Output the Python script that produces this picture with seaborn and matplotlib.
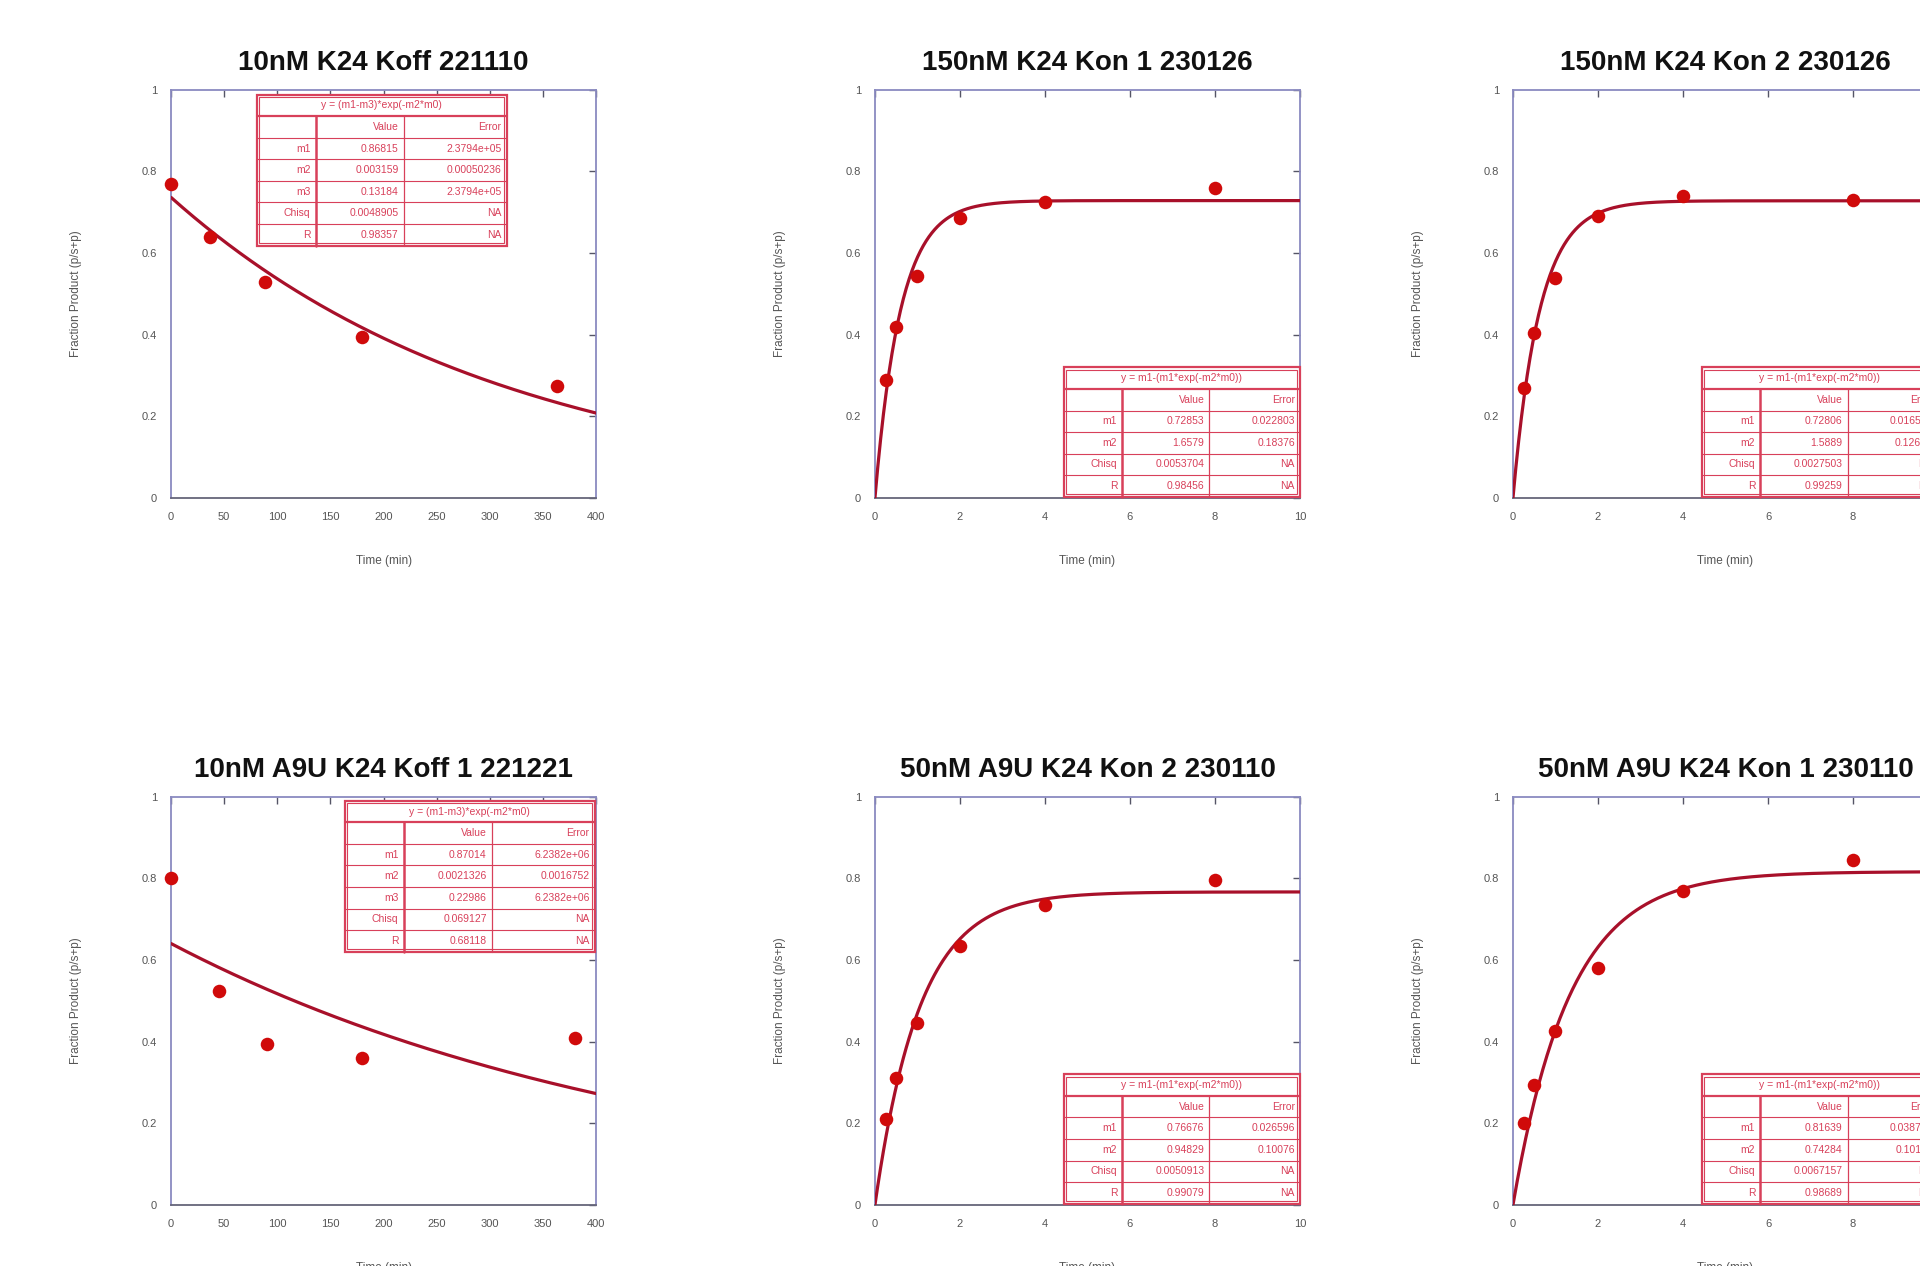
import numpy as np
import pandas as pd
import matplotlib
matplotlib.use("Agg")
import matplotlib.pyplot as plt
import seaborn as sns
from matplotlib.patches import Rectangle

sns.set_theme(style="white")
plt.rcParams['font.family'] = ['Liberation Sans', 'DejaVu Sans']

# ---- data ----
titles = ["10nM K24 Koff 221110", "150nM K24 Kon 1 230126", "150nM K24 Kon 2 230126",
          "10nM A9U K24 Koff 1 221221", "50nM A9U K24 Kon 2 230110", "50nM A9U K24 Kon 1 230110"]

t_k24_koff = [0, 37, 88, 180, 363]
f_k24_koff = [0.77, 0.64, 0.53, 0.395, 0.275]
t_k24_kon1 = [0.25, 0.5, 1, 2, 4, 8]
f_k24_kon1 = [0.29, 0.42, 0.545, 0.685, 0.725, 0.76]
t_k24_kon2 = [0.25, 0.5, 1, 2, 4, 8]
f_k24_kon2 = [0.27, 0.405, 0.54, 0.69, 0.74, 0.73]
t_a9u_koff = [0, 45, 90, 180, 380]
f_a9u_koff = [0.80, 0.525, 0.395, 0.36, 0.41]
t_a9u_kon2 = [0.25, 0.5, 1, 2, 4, 8]
f_a9u_kon2 = [0.21, 0.31, 0.445, 0.635, 0.735, 0.795]
t_a9u_kon1 = [0.25, 0.5, 1, 2, 4, 8]
f_a9u_kon1 = [0.20, 0.295, 0.425, 0.58, 0.77, 0.845]

# fit parameters as printed in each box (m1, m2, m3)
fit_m1 = [0.86815, 0.72853, 0.72806, 0.87014, 0.76676, 0.81639]
fit_m2 = [0.003159, 1.6579, 1.5889, 0.0021326, 0.94829, 0.74284]
fit_m3 = [0.13184, None, None, 0.22986, None, None]

eq_koff = "y = (m1-m3)*exp(-m2*m0)"
eq_kon = "y = m1-(m1*exp(-m2*m0))"
tables = [
    [["m1", "0.86815", "2.3794e+05"], ["m2", "0.003159", "0.00050236"], ["m3", "0.13184", "2.3794e+05"],
     ["Chisq", "0.0048905", "NA"], ["R", "0.98357", "NA"]],
    [["m1", "0.72853", "0.022803"], ["m2", "1.6579", "0.18376"],
     ["Chisq", "0.0053704", "NA"], ["R", "0.98456", "NA"]],
    [["m1", "0.72806", "0.016502"], ["m2", "1.5889", "0.12618"],
     ["Chisq", "0.0027503", "NA"], ["R", "0.99259", "NA"]],
    [["m1", "0.87014", "6.2382e+06"], ["m2", "0.0021326", "0.0016752"], ["m3", "0.22986", "6.2382e+06"],
     ["Chisq", "0.069127", "NA"], ["R", "0.68118", "NA"]],
    [["m1", "0.76676", "0.026596"], ["m2", "0.94829", "0.10076"],
     ["Chisq", "0.0050913", "NA"], ["R", "0.99079", "NA"]],
    [["m1", "0.81639", "0.038718"], ["m2", "0.74284", "0.10118"],
     ["Chisq", "0.0067157", "NA"], ["R", "0.98689", "NA"]],
]

times = [t_k24_koff, t_k24_kon1, t_k24_kon2, t_a9u_koff, t_a9u_kon2, t_a9u_kon1]
fracs = [f_k24_koff, f_k24_kon1, f_k24_kon2, f_a9u_koff, f_a9u_kon2, f_a9u_kon1]
is_koff = [True, False, False, True, False, False]

DOT = "#d00a0a"
LINE = "#a8102a"
TXT = "#d8405a"
SPINE = "#8a8ac0"
GRAY = "#555555"


def draw_table(ax, x0, y_top, col_w, eq, rows):
    rh = 0.0528
    n = len(rows) + 2
    w = sum(col_w)
    y0 = y_top - n * rh
    kw = dict(transform=ax.transAxes, clip_on=False, zorder=6)
    ax.add_patch(Rectangle((x0, y0), w, n * rh, facecolor="white", edgecolor=TXT, lw=1.6, **kw))
    ax.add_patch(Rectangle((x0 + 0.006, y0 + 0.006), w - 0.012, n * rh - 0.012,
                           facecolor="none", edgecolor=TXT, lw=0.8, **kw))
    for i in range(1, n):
        y = y_top - i * rh
        lw = 1.6 if i == 1 else 0.8
        ax.plot([x0, x0 + w], [y, y], color=TXT, lw=lw, **kw)
    xs = [x0 + col_w[0], x0 + col_w[0] + col_w[1]]
    ax.plot([xs[0], xs[0]], [y0, y_top - rh], color=TXT, lw=1.8, **kw)
    ax.plot([xs[1], xs[1]], [y0, y_top - rh], color=TXT, lw=0.9, **kw)
    tk = dict(transform=ax.transAxes, fontsize=7.5, color=TXT, va="center", zorder=7, clip_on=True)
    ax.text(x0 + w / 2, y_top - rh / 2, eq, ha="center", **tk)
    rights = [x0 + col_w[0], x0 + col_w[0] + col_w[1], x0 + w]
    all_rows = [["", "Value", "Error"]] + rows
    for r, row in enumerate(all_rows):
        yc = y_top - (r + 1.5) * rh
        for c, s in enumerate(row):
            ax.text(rights[c] - 0.012, yc, s, ha="right", **tk)


fig = plt.figure(figsize=(19.2, 12.66), dpi=100)
lefts = [0.0891, 0.4557, 0.788]
bottoms = [0.6066, 0.0482]
W, H = 0.2214, 0.3225

for k in range(6):
    r, c = divmod(k, 3)
    ax = fig.add_axes([lefts[c], bottoms[r], W, H])
    df = pd.DataFrame({"Time": times[k], "Frac": fracs[k]})
    if is_koff[k]:
        xmax = 400
        xf = np.linspace(0, xmax, 300)
        yf = (fit_m1[k] - fit_m3[k]) * np.exp(-fit_m2[k] * xf)
        xticks = np.arange(0, 401, 50)
    else:
        xmax = 10
        xf = np.linspace(0, xmax, 300)
        yf = fit_m1[k] - fit_m1[k] * np.exp(-fit_m2[k] * xf)
        xticks = np.arange(0, 11, 2)
    sns.lineplot(x=xf, y=yf, ax=ax, color=LINE, lw=2.3, zorder=3)
    sns.scatterplot(data=df, x="Time", y="Frac", ax=ax, color=DOT, s=95,
                    edgecolor=DOT, linewidth=0, zorder=4, clip_on=False)
    ax.set_xlim(0, xmax)
    ax.set_ylim(0, 1)
    ax.set_xticks(xticks)
    ax.set_xticklabels([str(v) for v in xticks])
    ax.set_yticks([0, 0.2, 0.4, 0.6, 0.8, 1])
    ax.set_yticklabels(["0", "0.2", "0.4", "0.6", "0.8", "1"])
    ax.tick_params(direction="in", top=True, right=True, length=5, width=1,
                   color="#555566", labelsize=8, labelcolor=GRAY, pad=10)
    for s in ax.spines.values():
        s.set_color(SPINE)
        s.set_linewidth(1.3)
    ax.spines["bottom"].set_color("#66667a")
    ax.set_title(titles[k], fontsize=20, fontweight="bold", color="#111111", pad=14)
    ax.set_xlabel("Time (min)", fontsize=8.5, color=GRAY)
    ax.set_ylabel("Fraction Product (p/s+p)", fontsize=8.5, color=GRAY)
    ax.xaxis.set_label_coords(0.5, -0.14)
    ax.yaxis.set_label_coords(-0.21, 0.5)

    if is_koff[k]:
        if r == 0:
            draw_table(ax, 0.202, 0.988, [0.138, 0.2075, 0.242], eq_koff, tables[k])
        else:
            draw_table(ax, 0.409, 0.99, [0.138, 0.2075, 0.242], eq_koff, tables[k])
    else:
        draw_table(ax, 0.444, 0.32, [0.138, 0.205, 0.213], eq_kon, tables[k])

fig.savefig("out.png", dpi=100)
